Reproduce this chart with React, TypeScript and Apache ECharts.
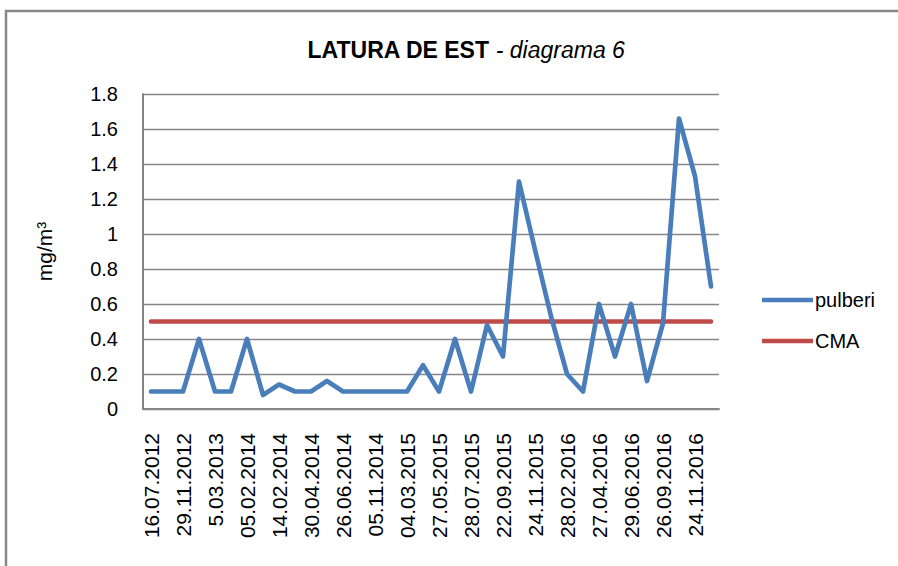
import React, { useEffect, useRef } from "react";
import * as echarts from "echarts";

const shownDates = [
  "16.07.2012", "29.11.2012", "5.03.2013", "05.02.2014", "14.02.2014", "30.04.2014",
  "26.06.2014", "05.11.2014", "04.03.2015", "27.05.2015", "28.07.2015", "22.09.2015",
  "24.11.2015", "28.02.2016", "27.04.2016", "29.06.2016", "26.09.2016", "24.11.2016",
];
// every other sampling date is labelled on the axis; the others have no visible label
const categories: string[] = [];
shownDates.forEach((d) => { categories.push(d); categories.push(""); });

const pulberi = [
  0.1, 0.1, 0.1, 0.4, 0.1, 0.1, 0.4, 0.08, 0.14, 0.1, 0.1, 0.16,
  0.1, 0.1, 0.1, 0.1, 0.1, 0.25, 0.1, 0.4, 0.1, 0.48, 0.3, 1.3,
  0.91, 0.53, 0.2, 0.1, 0.6, 0.3, 0.6, 0.16, 0.49, 1.66, 1.33, 0.7,
];
const cma = pulberi.map(() => 0.5);

const yTicks = { min: 0, max: 1.8, interval: 0.2 };

const FONT = "Liberation Sans";

export default function App() {
  const ref = useRef<HTMLDivElement>(null);
  useEffect(() => {
    const chart = echarts.init(ref.current!, null, { renderer: "svg" });
    chart.setOption({
      animation: false,
      backgroundColor: "#ffffff",
      textStyle: { fontFamily: FONT },
      title: {
        text: "{b|LATURA DE EST}{i| - diagrama 6}",
        left: 461,
        textAlign: "center",
        top: 33,
        textStyle: {
          rich: {
            b: { fontFamily: FONT, fontWeight: "bold", fontSize: 23, color: "#000" },
            i: { fontFamily: FONT, fontStyle: "italic", fontWeight: "normal", fontSize: 23, color: "#000" },
          },
        },
      },
      legend: {
        orient: "vertical",
        left: 757,
        top: 285,
        icon: "rect",
        itemWidth: 51,
        itemHeight: 4.5,
        itemGap: 21,
        textStyle: { fontFamily: FONT, fontSize: 20, color: "#000", padding: [0, 0, 0, -3] },
        data: ["pulberi", "CMA"],
      },
      grid: { left: 143, right: 179, top: 94, bottom: 157, containLabel: false },
      xAxis: {
        type: "category",
        data: categories,
        boundaryGap: true,
        axisLine: { lineStyle: { color: "#868686", width: 2 } },
        axisTick: { show: false },
        axisLabel: {
          interval: 1,
          rotate: 90,
          margin: 24,
          fontFamily: FONT,
          fontSize: 21,
          color: "#000",
        },
      },
      yAxis: {
        type: "value",
        min: yTicks.min,
        max: yTicks.max,
        interval: yTicks.interval,
        name: "mg/m³",
        nameLocation: "middle",
        nameRotate: 90,
        nameGap: 88,
        nameTextStyle: { fontFamily: FONT, fontSize: 21, color: "#000" },
        axisLine: { show: true, lineStyle: { color: "#868686", width: 2 } },
        axisTick: { show: false },
        splitLine: { lineStyle: { color: "#868686", width: 1.3 } },
        axisLabel: {
          margin: 25,
          fontFamily: FONT,
          fontSize: 20,
          color: "#000",
          formatter: (v: number) => String(Math.round(v * 10) / 10),
        },
      },
      series: [
        {
          name: "pulberi",
          type: "line",
          data: pulberi,
          symbol: "none",
          lineStyle: { color: "#4A7EBB", width: 4.7, join: "round", cap: "round" },
          itemStyle: { color: "#4A7EBB" },
          z: 3,
        },
        {
          name: "CMA",
          type: "line",
          data: cma,
          symbol: "none",
          lineStyle: { color: "#BE4B48", width: 4.7, cap: "round" },
          itemStyle: { color: "#BE4B48" },
          z: 2,
        },
      ],
      graphic: [
        {
          type: "rect",
          shape: { x: 6, y: 11, width: 1000, height: 1000 },
          style: { fill: "none", stroke: "#888888", lineWidth: 2.5 },
          silent: true,
        },
      ],
    });
    return () => chart.dispose();
  }, []);
  return (
    <div
      ref={ref}
      style={{ position: "fixed", left: 0, top: 0, width: 898, height: 566 }}
    />
  );
}
